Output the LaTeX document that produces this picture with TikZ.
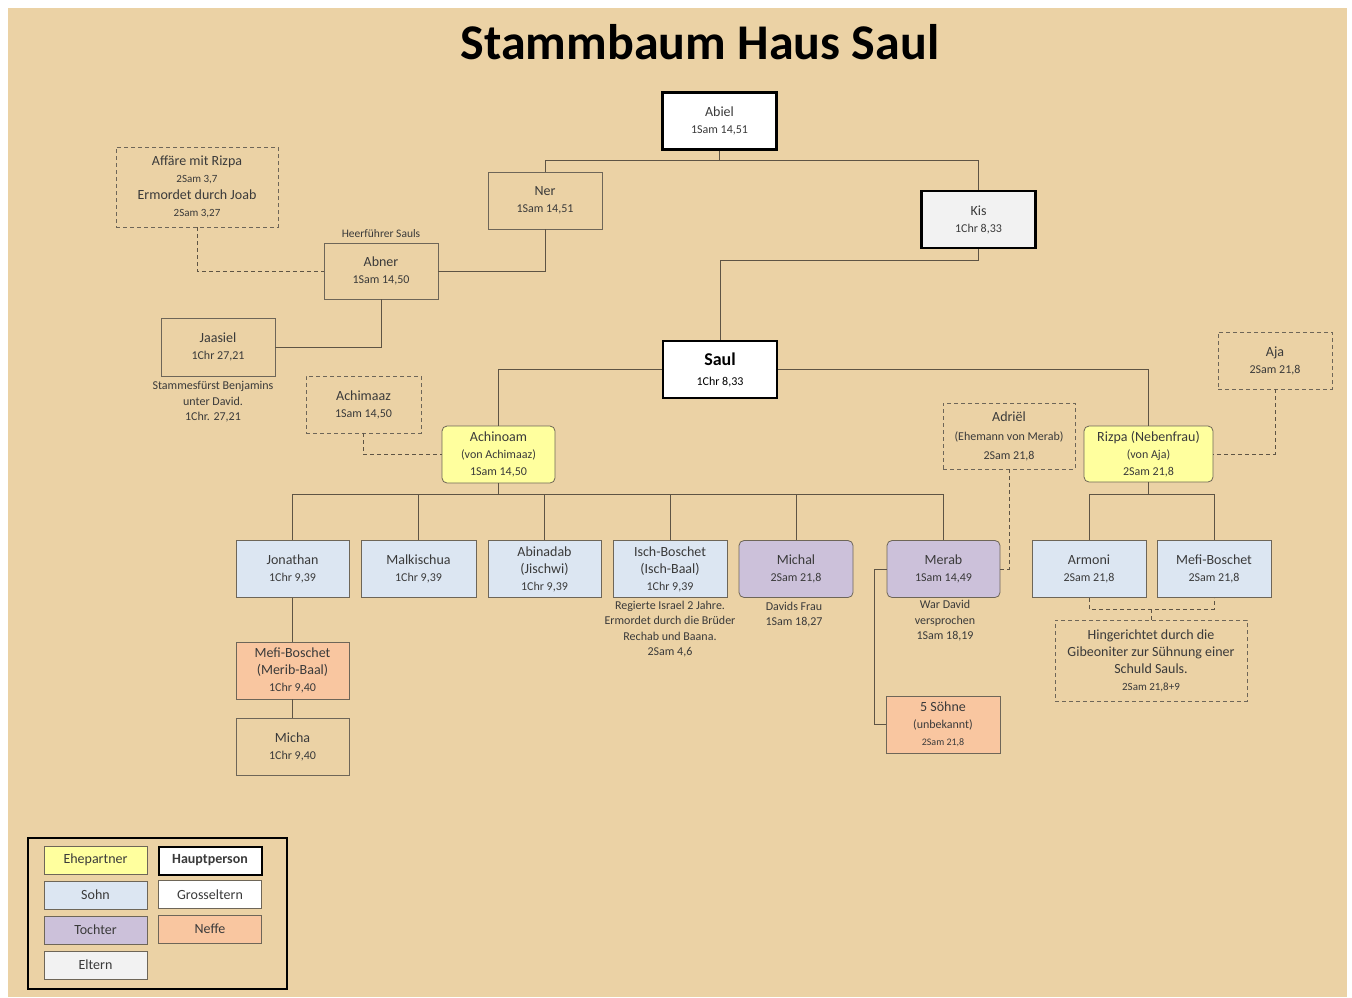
\documentclass[tikz,border=0pt]{standalone}
\usepackage{fontspec}
\setmainfont{Carlito}
\usepackage{tikz}
\usetikzlibrary{positioning,calc}
\definecolor{paper}{HTML}{EBD2A5}
\definecolor{txt}{HTML}{3A3A3A}
\definecolor{boxln}{HTML}{6E6658}
\definecolor{lnc}{HTML}{5E5444}
\definecolor{ehe}{HTML}{FFFF9E}
\definecolor{sohn}{HTML}{DCE6F2}
\definecolor{tocht}{HTML}{CCC1DA}
\definecolor{neffe}{HTML}{F9C6A0}
\definecolor{eltern}{HTML}{F2F2F2}
\newcommand{\rf}{\fontsize{12}{15}\selectfont}
\newcommand{\smref}{\fontsize{10}{12}\selectfont}

\begin{document}
\begin{tikzpicture}[x=1pt, y=-1pt,
    pers/.style={draw=boxln, line width=0.8pt, minimum width=114pt, minimum height=57pt,
                 align=center, inner sep=2pt, text=txt,
                 font=\fontsize{14}{17}\selectfont},
    haupt/.style={pers, draw=black, line width=2.4pt, fill=white},
    dpers/.style={pers, dashed, dash pattern=on 4pt off 3pt},
    ehep/.style={pers, fill=ehe, rounded corners=5pt},
    sohnb/.style={pers, fill=sohn},
    tochb/.style={pers, fill=tocht, rounded corners=5pt},
    neffb/.style={pers, fill=neffe},
    note/.style={align=center, text=txt, inner sep=0pt,
                 font=\fontsize{12}{15.5}\selectfont},
    lg/.style={draw=boxln, line width=0.9pt, minimum width=103pt, minimum height=28pt,
               inner sep=1pt, text=txt, font=\fontsize{14}{16}\selectfont},
    ln/.style={draw=lnc, line width=0.8pt},
    dln/.style={ln, dash pattern=on 4pt off 3pt},
  ]
    \useasboundingbox (0,0) rectangle (1352,997);
    \fill[white] (0,0) rectangle (1352,997);
    \fill[paper] (8,8) rectangle (1347,997);

    \node[font=\fontsize{50}{56}\bfseries, text=black] (title) at (700,42)
      {Stammbaum Haus Saul};

    % Grosseltern und Eltern
    \node[haupt] (abiel) at (719.5,121) {Abiel\\{\rf 1Sam 14,51}};
    \node[haupt, fill=eltern] (kis) at (978.5,219.5) {Kis\\{\rf 1Chr 8,33}};
    \node[pers] (ner) at (545,200.5) {Ner\\{\rf 1Sam 14,51}};
    \node[pers, minimum height=56pt] (abner) at (381,271) {Abner\\{\rf 1Sam 14,50}};
    \node[note, font=\fontsize{11.5}{14}\selectfont, above=5pt of abner] (heer)
      {Heerführer Sauls};
    \node[dpers, minimum width=162pt, minimum height=80pt] (affaere) at (197,187)
      {Affäre mit Rizpa\\{\fontsize{11}{14}\selectfont 2Sam 3,7}\\Ermordet durch Joab\\{\fontsize{11}{14}\selectfont 2Sam 3,27}};
    \node[pers, minimum height=58pt] (jaasiel) at (218,347) {Jaasiel\\{\rf 1Chr 27,21}};
    \node[note] (jnote) at (213,402)
      {Stammesfürst Benjamins\\unter David.\\1Chr. 27,21};

    % Saul und Frauen
    \node[haupt, font=\fontsize{18}{20}\bfseries, text=black] (saul) at (720,369.5)
      {Saul\\{\fontsize{12}{15}\mdseries 1Chr 8,33}};
    \node[dpers, minimum width=115pt] (achimaaz) at (363.5,404.5) {Achimaaz\\{\rf 1Sam 14,50}};
    \node[ehep, minimum width=113pt] (achinoam) at (498.5,454.5)
      {Achinoam\\{\rf (von Achimaaz)}\\{\rf 1Sam 14,50}};
    \node[dpers, minimum width=132pt, minimum height=66pt] (adriel) at (1009,436)
      {Adriël\\[2pt]{\rf (Ehemann von Merab)}\\[2pt]{\rf 2Sam 21,8}};
    \node[ehep, minimum width=129pt, minimum height=56pt] (rizpa) at (1148.5,454)
      {Rizpa (Nebenfrau)\\{\rf (von Aja)}\\{\rf 2Sam 21,8}};
    \node[dpers] (aja) at (1275,360.5) {Aja\\{\rf 2Sam 21,8}};

    % Kinder
    \node[sohnb, minimum width=113pt] (jon) at (292.5,569) {Jonathan\\{\rf 1Chr 9,39}};
    \node[sohnb, minimum width=115pt] (malk) at (418.5,569) {Malkischua\\{\rf 1Chr 9,39}};
    \node[sohnb, minimum width=113pt] (abin) at (544.5,569) {Abinadab\\(Jischwi)\\{\rf 1Chr 9,39}};
    \node[sohnb] (isch) at (670,569) {Isch-Boschet\\(Isch-Baal)\\{\rf 1Chr 9,39}};
    \node[tochb] (mich) at (796,569) {Michal\\{\rf 2Sam 21,8}};
    \node[tochb, minimum width=113pt] (merab) at (943.5,569) {Merab\\{\rf 1Sam 14,49}};
    \node[sohnb] (armoni) at (1089,569) {Armoni\\{\rf 2Sam 21,8}};
    \node[sohnb] (mefi2) at (1214,569) {Mefi-Boschet\\{\rf 2Sam 21,8}};

    \node[note] (ischnote) at (670,629)
      {Regierte Israel 2 Jahre.\\Ermordet durch die Brüder\\Rechab und Baana.\\2Sam 4,6};
    \node[note] (michnote) at (794,614.5) {Davids Frau\\1Sam 18,27};
    \node[note] (merabnote) at (945,621) {War David\\versprochen\\1Sam 18,19};
    \node[dpers, minimum width=192pt, minimum height=81pt] (hinger) at (1151,660.5)
      {Hingerichtet durch die\\Gibeoniter zur Sühnung einer\\Schuld Sauls.\\{\fontsize{11}{14}\selectfont 2Sam 21,8+9}};

    % Enkel
    \node[neffb, minimum width=113pt] (mefib) at (292.5,670.5)
      {Mefi-Boschet\\(Merib-Baal)\\{\rf 1Chr 9,40}};
    \node[pers, minimum width=113pt] (micha) at (292.5,746.5) {Micha\\{\rf 1Chr 9,40}};
    \node[neffb] (soehne) at (943,724.5)
      {5 Söhne\\{\rf (unbekannt)}\\{\smref 2Sam 21,8}};

    % Verbindungen
    \draw[ln] (abiel.south) -- ++(0,10) -| (ner.north);
    \draw[ln] (abiel.south) -- ++(0,10) -| (kis.north);
    \draw[ln] (ner.south) |- (abner.east);
    \draw[dln] (affaere.south) |- (abner.west);
    \draw[ln] (abner.south) |- (jaasiel.east);
    \draw[ln] (kis.south) -- ++(0,11) -| (saul.north);
    \draw[ln] (saul.west) -| (achinoam.north);
    \draw[ln] (saul.east) -| (rizpa.north);
    \draw[dln] (achimaaz.south) |- (achinoam.west);
    \draw[dln] (aja.south) |- (rizpa.east);
    \foreach \k in {jon,malk,abin,isch,mich,merab}
      \draw[ln] (achinoam.south) -- ++(0,11) -| (\k.north);
    \foreach \k in {armoni,mefi2}
      \draw[ln] (rizpa.south) -- ++(0,12) -| (\k.north);
    \draw[dln] (adriel.south) |- (merab.east);
    \draw[dln] (armoni.south) -- ++(0,11) coordinate (hbus) -| (mefi2.south);
    \draw[dln] (hinger.north) -- (hinger.north |- hbus);
    \draw[ln] (jon.south) -- (mefib.north);
    \draw[ln] (mefib.south) -- (micha.north);
    \draw[ln] (merab.west) -- ++(-12,0) |- (soehne.west);

    % Legende
    \draw[black, line width=2pt] (28,838) rectangle (287,989);
    \node[lg, fill=ehe] (lgehe) at (95.5,860) {Ehepartner};
    \node[lg, fill=white, draw=black, line width=2pt, font=\fontsize{14}{16}\bfseries] (lghaupt)
      at (210,860.5) {Hauptperson};
    \node[lg, fill=sohn] (lgsohn) at (95.5,895) {Sohn};
    \node[lg, fill=white] (lggross) at (210,894.5) {Grosseltern};
    \node[lg, fill=tocht] (lgtoch) at (95.5,930) {Tochter};
    \node[lg, fill=neffe] (lgneffe) at (210,929) {Neffe};
    \node[lg, fill=eltern] (lgeltern) at (95.5,965) {Eltern};
\end{tikzpicture}
\end{document}
